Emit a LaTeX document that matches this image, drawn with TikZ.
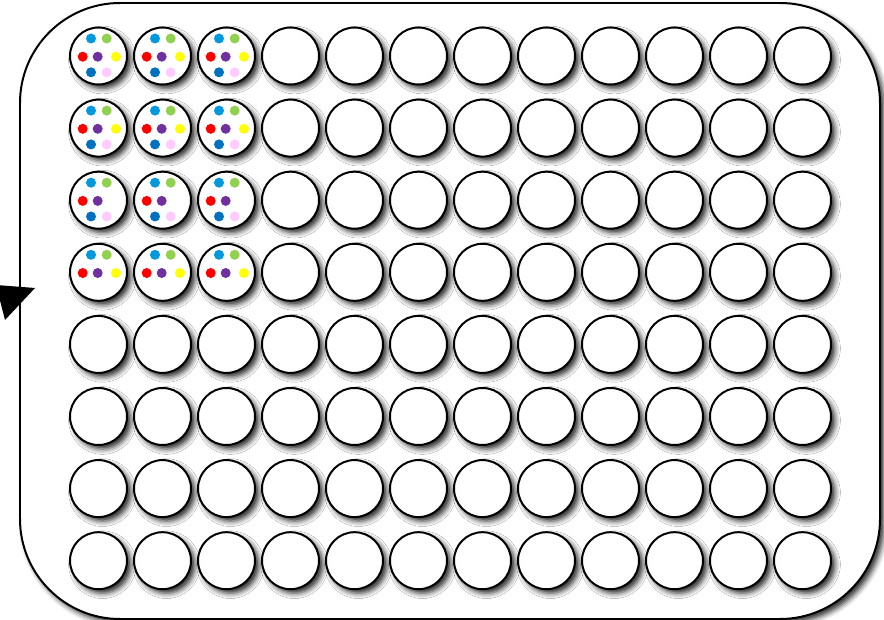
\documentclass[tikz,border=0pt]{standalone}
\usetikzlibrary{shadows.blur}
\definecolor{dotcyan}{HTML}{0099DD}
\definecolor{dotgreen}{HTML}{92D050}
\definecolor{dotred}{HTML}{FF0000}
\definecolor{dotpurple}{HTML}{7030A0}
\definecolor{dotyellow}{HTML}{FFFF00}
\definecolor{dotblue}{HTML}{0070C0}
\definecolor{dotpink}{HTML}{FFCCFF}
\begin{document}
\begin{tikzpicture}[x=0.03cm, y=-0.03cm,
 soft shadow/.style={blur shadow={shadow xshift=1.2mm, shadow yshift=-1.2mm,
   shadow blur radius=1.6mm, shadow opacity=85}},
 well/.style={circle, draw, line width=1.7pt, fill=white, minimum size=1.71cm,
   inner sep=0pt, soft shadow},
 plate/.style={draw, line width=1.7pt, fill=white, rounded corners=3cm, soft shadow}]
\useasboundingbox (0,0) rectangle (884,620);
% plate outline and corner mark
\draw[plate] (20,3) rectangle (880,619);
\fill (-4,285) -- (35,288) -- (5,320) -- cycle;
% 8 x 12 wells
\foreach \r in {1,...,8}
 \foreach \c in {1,...,12}
  \node[well] (w-\r-\c) at ({98.5+64*(\c-1)},{56+72.1*(\r-1)}) {};
% coloured dots in the first three columns
\foreach \r in {1,...,4}
 \foreach \c in {1,2,3} {
  \fill[dotcyan] ([shift={(-7.5,-17.5)}]w-\r-\c.center) circle (5);
  \fill[dotgreen] ([shift={(8.2,-17.5)}]w-\r-\c.center) circle (5);
  \fill[dotred] ([shift={(-15.8,0.7)}]w-\r-\c.center) circle (5);
  \fill[dotpurple] ([shift={(-0.8,0.7)}]w-\r-\c.center) circle (5);
 }
\foreach \r in {1,2,4}
 \foreach \c in {1,2,3}
  \fill[dotyellow] ([shift={(17.5,0.7)}]w-\r-\c.center) circle (5);
\foreach \r in {1,2,3}
 \foreach \c in {1,2,3} {
  \fill[dotblue] ([shift={(-7.5,16.3)}]w-\r-\c.center) circle (5);
  \fill[dotpink] ([shift={(8.2,16.3)}]w-\r-\c.center) circle (5);
 }
\end{tikzpicture}
\end{document}
